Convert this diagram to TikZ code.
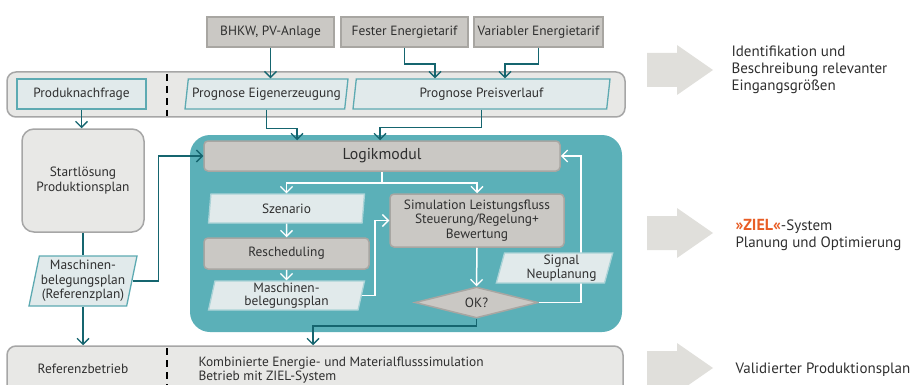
\documentclass[tikz,border=0pt]{standalone}
\usepackage{fontspec}
\setmainfont{PT Sans}
\usetikzlibrary{arrows.meta,shapes.geometric,calc}
\definecolor{darkteal}{HTML}{15656F}
\definecolor{tealbg}{HTML}{5BB0B8}
\definecolor{parafill}{HTML}{E1EAEB}
\definecolor{paraborder}{HTML}{5DAAB2}
\definecolor{grayfill}{HTML}{CAC8C4}
\definecolor{grayborder}{HTML}{A8A6A2}
\definecolor{bandfill}{HTML}{E8E8E6}
\definecolor{bandborder}{HTML}{A6A6A6}
\definecolor{arrgray}{HTML}{E0DFDB}
\definecolor{txt}{HTML}{2F2F2F}
\definecolor{zielorange}{HTML}{E85D25}
\tikzset{
  every node/.style={text=txt, font=\fontsize{13.4}{14.5}\selectfont},
  graybox/.style={draw=grayborder, fill=grayfill, line width=1.5pt, inner sep=0pt},
  rgraybox/.style={graybox, rounded corners=4pt},
  band/.style={draw=bandborder, fill=bandfill, line width=1.5pt, rounded corners=9pt, inner sep=0pt},
  lightbox/.style={draw=paraborder, fill=parafill, line width=1.3pt, inner sep=0pt},
  para/.style={lightbox, trapezium, trapezium left angle=#1, trapezium right angle=180-#1,
    trapezium stretches body, align=center, inner sep=0pt},
  ipara/.style={para=#1, draw=parafill!60!tealbg},
  darr/.style={draw=darkteal, line width=1.6pt, -{Straight Barb[length=6pt,width=12pt,line width=1.4pt]}},
  dline/.style={draw=darkteal, line width=1.6pt},
  warr/.style={draw=white, line width=1.5pt, -{Straight Barb[length=6pt,width=12pt,line width=1.3pt]}},
  wline/.style={draw=white, line width=1.5pt},
  sep/.style={draw=black, line width=1.5pt, dash pattern=on 7pt off 5pt},
}
\begin{document}
\begin{tikzpicture}[x=1pt,y=-1pt]
\useasboundingbox (0,0) rectangle (912,385);
\clip (0,0) rectangle (912,385);

% bands and containers
\node[band, minimum width=618, minimum height=45] (topband) at (316,94.5) {};
\node[band, minimum width=616, minimum height=49] (botband) at (315,370.5) {};
\node[draw=none, fill=tealbg, rounded corners=20pt, minimum width=432, minimum height=197] (tealbox) at (406,233.5) {};
\draw[sep] (167,74) -- (167,116);
\draw[sep] (167,348) -- (167,385);

% top inputs
\node[graybox, minimum width=127, minimum height=30] (bhkw) at (270.5,32) {BHKW, PV-Anlage};
\node[graybox, minimum width=127, minimum height=30] (fester) at (404.5,32) {Fester Energietarif};
\node[graybox, minimum width=129, minimum height=30] (variabler) at (538.5,32) {Variabler Energietarif};

% top band content
\node[lightbox, minimum width=129, minimum height=30] (prod) at (81.5,94) {Produknachfrage};
\node[para=75, minimum width=163, minimum height=30] (progE) at (266.5,94) {Prognose Eigenerzeugung};
\node[para=75, minimum width=257, minimum height=30] (progP) at (481.5,94) {Prognose Preisverlauf};

% left column
\node[band, rounded corners=12pt, minimum width=122, minimum height=103, align=center] (start) at (83,180.5) {Startlösung\\Produktionsplan};
\node[para=76, minimum width=108, minimum height=50] (masRef) at (83,281) {Maschinen-\\belegungsplan\\(Referenzplan)};

% teal box content
\node[rgraybox, minimum width=356, minimum height=30, font=\fontsize{15.8}{17}\selectfont] (logik) at (382,156) {Logikmodul};
\node[ipara=76, minimum width=156, minimum height=29] (szen) at (286.5,208.5) {Szenario};
\node[rgraybox, minimum width=165, minimum height=31] (resch) at (286.5,253.5) {Rescheduling};
\node[ipara=76, minimum width=156, minimum height=29, font=\fontsize{13.4}{13.5}\selectfont] (mas2) at (286.5,295.5) {Maschinen-\\belegungsplan};
\node[rgraybox, minimum width=174, minimum height=53, align=center] (sim) at (477,220.5) {Simulation Leistungsfluss\\Steuerung/Regelung+\\Bewertung};
\node[graybox, diamond, shape aspect=4, minimum width=123, minimum height=31] (ok) at (476.5,302.5) {OK?};

% connectors (dark)
\draw[darr] (bhkw.south) -- (bhkw.south |- progE.north);
\draw[darr] (fester.south) -- ++(0,16) -| ($(progP.north)+(-46.5,0)$);
\draw[darr] (variabler.south) -- ++(0,16) -| ($(progP.north)+(23.5,0)$);
\draw[darr] (progE.south) -- ++(0,19) -| ($(logik.north)+(-85,0)$);
\draw[darr] (progP.south) -- ++(0,18) -| ($(logik.north)+(-2,0)$);
\draw[darr] (prod.south) -- (prod.south |- start.north);
\draw[dline] (start.south) -- (start.south |- masRef.north);
\draw[darr] (masRef.south) -- (masRef.south |- botband.north);
\draw[darr] (masRef.east) -- ++(26,0) |- (logik.west);
\draw[darr] (ok.south) -- ++(0,7) -| ($(botband.north)+(-2,0)$);

% connectors (white)
\draw[wline] (logik.south) -- ++(0,11) coordinate (split);
\draw[warr] (split) -| (szen.north);
\draw[warr] (split) -| (sim.north);
\draw[warr] (szen.south) -- (resch.north);
\draw[warr] (resch.south) -- (mas2.north);
\draw[warr] (mas2.east) -- ++(13,0) |- (sim.west);
\draw[warr] (sim.south) -- (ok.north);
\draw[warr] (ok.east) -- ++(42,0) |- (logik.east);

\node[ipara=73, minimum width=108, minimum height=30, text width=100, align=center] (signal) at (554.5,268) {\hspace*{14pt}Signal\\\hspace*{14pt}Neuplanung};

% bottom band texts
\node (refb) at (83,369) {Referenzbetrieb};
\node[anchor=west, align=left, font=\fontsize{13.4}{14}\selectfont] (kombi) at (195,370) {Kombinierte Energie- und Materialflusssimulation\\Betrieb mit ZIEL-System};

% right side
\foreach \yy in {70,233,368}{
  \fill[arrgray] (647,\yy-17) -- (677,\yy-17) -- (677,\yy-25) -- (713,\yy) -- (677,\yy+25) -- (677,\yy+17) -- (647,\yy+17) -- cycle;
}
\node[anchor=west, align=left, font=\fontsize{15}{17}\selectfont] (rt1) at (728,70) {Identifikation und\\Beschreibung relevanter\\Eingangsgrößen};
\node[anchor=west, align=left, font=\fontsize{15}{17}\selectfont] (rt2) at (732,234.5) {{\bfseries\color{zielorange}\fontsize{16}{17}\selectfont »ZIEL«}-System\\Planung und Optimierung};
\node[anchor=west, font=\fontsize{15}{17}\selectfont] (rt3) at (732,370) {Validierter Produktionsplan};
\end{tikzpicture}
\end{document}
